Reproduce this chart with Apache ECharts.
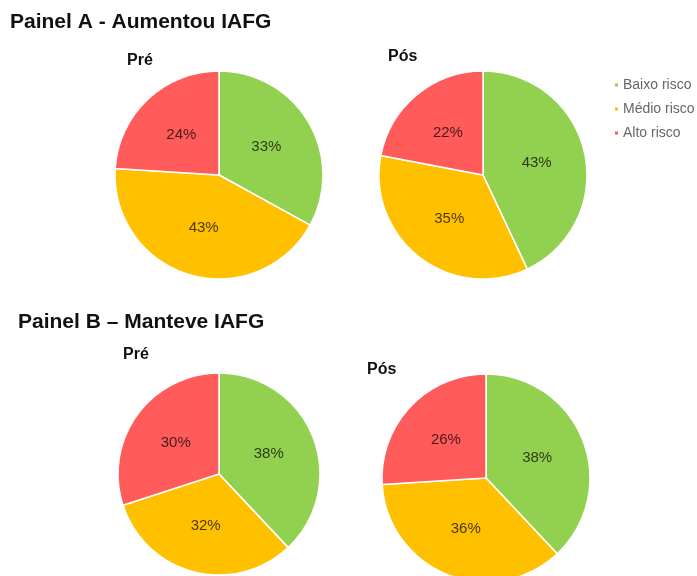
<!DOCTYPE html>
<html>
<head>
<meta charset="utf-8">
<script src="https://cdn.jsdelivr.net/npm/echarts@6/dist/echarts.min.js"></script>
<style>
  html, body { margin: 0; padding: 0; background: #fff; }
  #chart { width: 697px; height: 576px; }
</style>
</head>
<body>
<div id="chart"></div>
<script>
// Risk categories and their slice colours
const categories = ['Baixo risco', 'Médio risco', 'Alto risco'];
const colors = ['#92D050', '#FFC000', '#FF5B5B'];

// Painel A - Aumentou IAFG
const painelAPre = [33, 43, 24];
const painelAPos = [43, 35, 22];

// Painel B - Manteve IAFG
const painelBPre = [38, 32, 30];
const painelBPos = [38, 36, 26];

const font = 'Arial, "Liberation Sans", sans-serif';

function pieSeries(values, center, radius) {
  return {
    type: 'pie',
    center: center,
    radius: radius,
    startAngle: 90,
    clockwise: true,
    avoidLabelOverlap: false,
    silent: true,
    itemStyle: { borderColor: '#fff', borderWidth: 1.5 },
    label: {
      show: true,
      position: 'inside',
      formatter: '{c}%',
      fontFamily: font,
      fontSize: 15,
      color: 'rgba(0,0,0,0.72)'
    },
    labelLine: { show: false },
    data: categories.map((name, i) => ({ name: name, value: values[i] }))
  };
}

function heading(text, left, top, size) {
  return {
    text: text, left: left, top: top,
    textStyle: { fontFamily: font, fontSize: size, fontWeight: 'bold', color: '#111' }
  };
}

const chart = echarts.init(document.getElementById('chart'), null, { renderer: 'canvas' });
chart.setOption({
  animation: false,
  color: colors,
  title: [
    heading('Painel A - Aumentou IAFG', 5, 7, 21),
    heading('Pré', 122, 48, 16),
    heading('Pós', 383, 44, 16),
    heading('Painel B – Manteve IAFG', 13, 307, 21),
    heading('Pré', 118, 342, 16),
    heading('Pós', 362, 357, 16)
  ],
  legend: {
    orient: 'vertical',
    left: 608,
    top: 73,
    itemWidth: 5,
    itemHeight: 5,
    itemGap: 10,
    icon: 'rect',
    data: categories,
    textStyle: { fontFamily: font, fontSize: 14, color: '#666', padding: [0, 0, 0, -1] }
  },
  series: [
    pieSeries(painelAPre, [219, 175], 104),
    pieSeries(painelAPos, [483, 175], 104),
    pieSeries(painelBPre, [219, 474], 101),
    pieSeries(painelBPos, [486, 478], 104)
  ]
});
</script>
</body>
</html>
